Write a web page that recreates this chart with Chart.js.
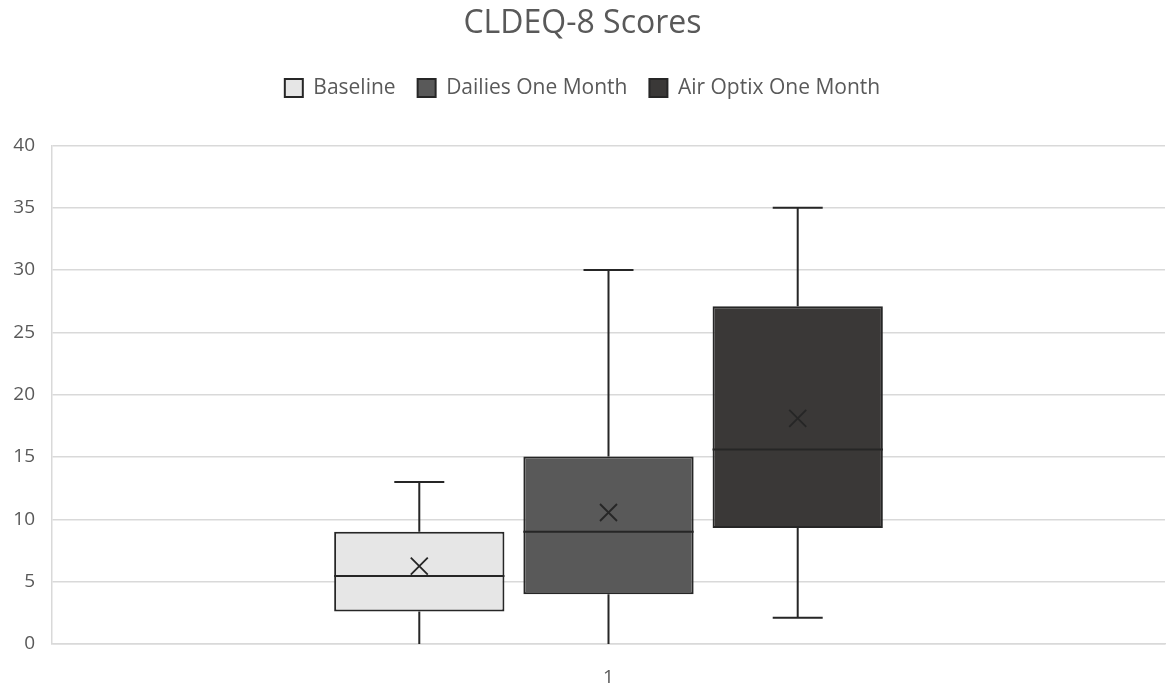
<!DOCTYPE html>
<html>
<head>
<meta charset="utf-8">
<script src="https://cdn.jsdelivr.net/npm/chart.js@4.4.0/dist/chart.umd.min.js"></script>
<style>
html,body{margin:0;padding:0;background:#fff;}
#wrap{width:1169px;height:688px;position:relative;}
</style>
</head>
<body>
<div id="wrap"><canvas id="c"></canvas></div>
<script>
const categories = ["1"];
const seriesNames = ["Baseline", "Dailies One Month", "Air Optix One Month"];
const minValues    = [0,    0,    2.1];
const q1Values     = [2.6,  4.0,  9.3];
const medianValues = [5.45, 9.0,  15.6];
const q3Values     = [9.0,  15.05, 27.1];
const maxValues    = [13.0, 30.0, 35.0];
const meanValues   = [6.25, 10.55, 18.1];
const yTicks = [0, 5, 10, 15, 20, 25, 30, 35, 40];

const fills = ["#e6e6e6", "#595959", "#3a3837"];
const edge = "#262626";

const datasets = seriesNames.map((name, i) => ({
  label: name,
  data: [[q1Values[i], q3Values[i]]],
  backgroundColor: fills[i],
  borderColor: edge,
  borderWidth: 2,
  borderSkipped: false,
  barPercentage: 0.9,
  categoryPercentage: 0.51
}));

const boxPlugin = {
  id: 'boxExtras',
  afterDatasetsDraw(chart) {
    const ctx = chart.ctx;
    const y = chart.scales.y;
    ctx.save();
    ctx.strokeStyle = edge;
    chart.data.datasets.forEach((ds, i) => {
      const meta = chart.getDatasetMeta(i);
      meta.data.forEach((bar) => {
        const cx = bar.x;
        const half = bar.width / 2;
        const yMin = y.getPixelForValue(minValues[i]);
        const yQ1 = y.getPixelForValue(q1Values[i]);
        const yQ3 = y.getPixelForValue(q3Values[i]);
        const yMax = y.getPixelForValue(maxValues[i]);
        const yMed = y.getPixelForValue(medianValues[i]);
        const yMean = y.getPixelForValue(meanValues[i]);
        const cap = 25;
        ctx.lineWidth = 2;
        ctx.beginPath();
        ctx.moveTo(cx, yQ3); ctx.lineTo(cx, yMax);
        ctx.moveTo(cx - cap, yMax); ctx.lineTo(cx + cap, yMax);
        ctx.moveTo(cx, yQ1); ctx.lineTo(cx, yMin);
        if (minValues[i] > y.min) {
          ctx.moveTo(cx - cap, yMin); ctx.lineTo(cx + cap, yMin);
        }
        ctx.moveTo(cx - half, yMed); ctx.lineTo(cx + half, yMed);
        ctx.stroke();
        const m = 8.5;
        ctx.lineWidth = 1.8;
        ctx.beginPath();
        ctx.moveTo(cx - m, yMean - m); ctx.lineTo(cx + m, yMean + m);
        ctx.moveTo(cx + m, yMean - m); ctx.lineTo(cx - m, yMean + m);
        ctx.stroke();
      });
    });
    ctx.restore();
  }
};

// extra space between the legend and the plot area
const legendGap = {
  id: 'legendGap',
  beforeLayout(chart) {
    const lg = chart.legend;
    if (lg && !lg._gapPatched) {
      const f = lg.fit;
      lg.fit = function () { f.call(this); this.height += 37; };
      lg._gapPatched = true;
    }
  }
};

Chart.defaults.font.family = "'Open Sans', 'Noto Sans', sans-serif";
Chart.defaults.color = "#595959";

new Chart(document.getElementById('c'), {
  type: 'bar',
  data: { labels: categories, datasets },
  options: {
    responsive: true,
    maintainAspectRatio: false,
    animation: false,
    layout: { padding: { left: 0, right: 4, top: 0, bottom: 0 } },
    plugins: {
      title: {
        display: true,
        text: 'CLDEQ-8 Scores',
        color: '#595959',
        font: { size: 32, weight: 'normal' },
        padding: { top: 5, bottom: 12 }
      },
      legend: {
        display: true,
        position: 'top',
        labels: {
          color: '#595959',
          font: { size: 21 },
          boxWidth: 18,
          boxHeight: 18,
          padding: 22,
          useBorderRadius: false
        }
      },
      tooltip: { enabled: false }
    },
    scales: {
      x: {
        grid: { display: false, drawTicks: false },
        border: { display: true, color: '#d9d9d9', width: 1.5 },
        ticks: { font: { size: 19 }, color: '#595959', padding: 22 },
        afterFit(scale) { scale.height = 44; }
      },
      y: {
        min: 0,
        max: 40,
        afterBuildTicks(scale) { scale.ticks = yTicks.map(v => ({ value: v })); },
        afterFit(scale) { scale.width = 52; },
        grid: { color: '#d9d9d9', lineWidth: 1.5, drawTicks: false },
        border: { display: true, color: '#d9d9d9', width: 1.5 },
        ticks: { font: { size: 19 }, color: '#595959', padding: 17 }
      }
    }
  },
  plugins: [boxPlugin, legendGap]
});
</script>
</body>
</html>
